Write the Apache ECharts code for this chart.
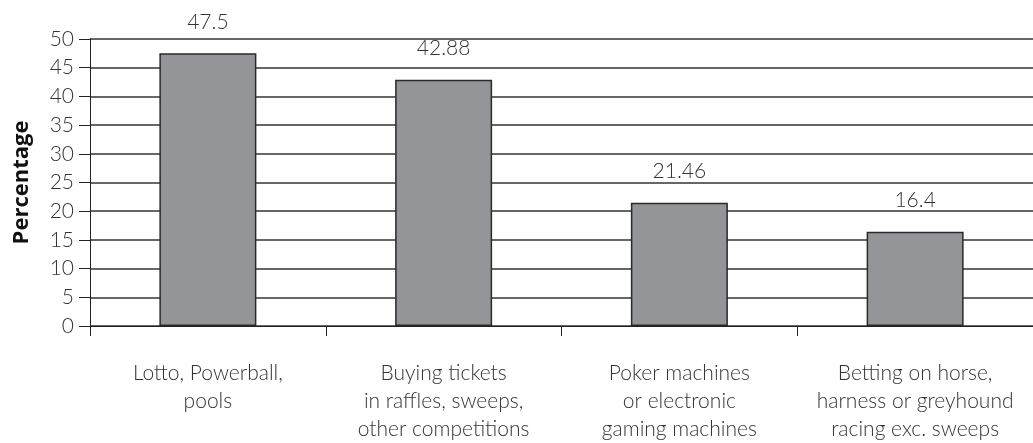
<!DOCTYPE html>
<html>
<head>
<meta charset="utf-8">
<script src="https://cdn.jsdelivr.net/npm/echarts@6/dist/echarts.min.js"></script>
<style>
html,body{margin:0;padding:0;background:#fff;}
#main{width:1033px;height:443px;}
</style>
</head>
<body>
<div id="main"></div>
<script>
// categories and values
var categories = [
    'Lotto, Powerball,\npools',
    'Buying tickets\nin raffles, sweeps,\nother competitions',
    'Poker machines\nor electronic\ngaming machines',
    'Betting on horse,\nharness or greyhound\nracing exc. sweeps'
];
var percentages = [47.5, 42.88, 21.46, 16.4];
var valueLabels = ['47.5', '42.88', '21.46', '16.4'];

var chart = echarts.init(document.getElementById('main'));

var option = {
    backgroundColor: '#ffffff',
    animation: false,
    grid: {
        left: 90,
        right: -7,
        top: 39,
        bottom: 109
    },
    xAxis: {
        type: 'category',
        data: categories,
        axisLine: { show: true, lineStyle: { color: '#222', width: 1 } },
        axisTick: { show: true, interval: 0, length: 10, lineStyle: { color: '#222' } },
        axisLabel: {
            interval: 0,
            color: '#333',
            fontFamily: 'Lato',
            fontWeight: 300,
            fontSize: 21,
            lineHeight: 28,
            margin: 33
        }
    },
    yAxis: {
        type: 'value',
        min: 0,
        max: 50,
        interval: 5,
        name: 'Percentage',
        nameLocation: 'middle',
        nameGap: 57,
        nameTextStyle: {
            fontFamily: 'Open Sans',
            fontWeight: 'bold',
            fontSize: 22,
            color: '#111'
        },
        axisLine: { show: true, lineStyle: { color: '#222', width: 1 } },
        axisTick: { show: true, length: 11, lineStyle: { color: '#222' } },
        axisLabel: {
            color: '#333',
            fontFamily: 'Lato',
            fontWeight: 300,
            fontSize: 21,
            margin: 16
        },
        splitLine: { show: true, lineStyle: { color: '#333', width: 1.5 } }
    },
    series: [{
        type: 'bar',
        data: percentages,
        barWidth: 97,
        itemStyle: {
            color: '#939598',
            borderColor: '#2a2a2a',
            borderWidth: 1.5
        },
        label: {
            show: true,
            position: 'top',
            distance: 21,
            formatter: function (p) { return valueLabels[p.dataIndex]; },
            color: '#333',
            fontFamily: 'Lato',
            fontWeight: 300,
            fontSize: 21
        }
    }]
};
chart.setOption(option);
</script>
</body>
</html>
